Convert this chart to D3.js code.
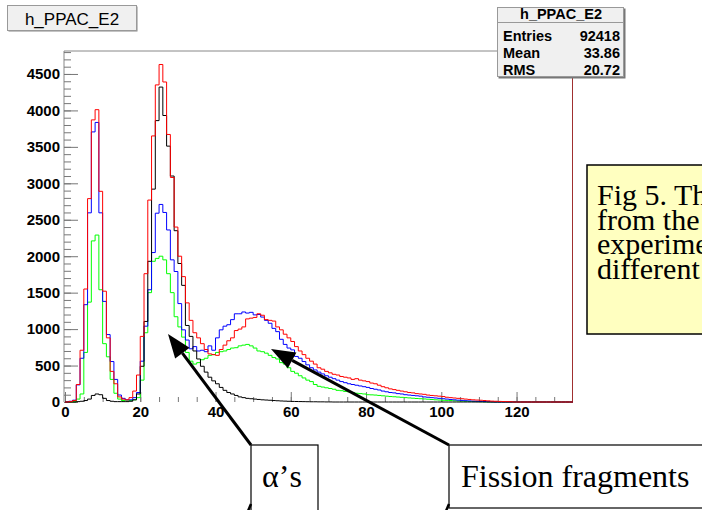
<!DOCTYPE html>
<html>
<head>
<meta charset="utf-8">
<title>h_PPAC_E2</title>
<script src="https://cdnjs.cloudflare.com/ajax/libs/d3/7.8.5/d3.min.js"></script>
<style>
  body { margin: 0; background: #fff; }
  svg { display: block; }
</style>
</head>
<body>
<div id="chart"></div>
<script>
// bin contents, one bin per unit of E2 starting at 0
var red = [0,5,20,240,710,1550,2790,3870,4010,2890,1520,880,420,250,70,40,30,60,150,370,
  900,1760,2770,3650,4350,4630,4390,3670,3080,2400,2000,1720,1360,1120,950,880,800,720,660,650,
  640,720,780,840,880,980,1000,1030,1140,1150,1160,1210,1190,1130,1120,1110,1030,990,930,880,
  830,760,700,650,600,560,520,470,450,420,400,380,370,350,340,330,310,320,300,290,
  280,260,250,230,210,195,180,170,160,150,140,130,125,115,110,105,95,90,85,80,
  75,65,60,55,50,45,40,35,30,27,24,20,16,12,10,8,6,5,3,0];
var blue = [0,10,25,235,600,1335,2595,3705,3835,2595,1380,925,555,310,96,50,30,30,60,130,
  560,1040,1540,2050,2590,2710,2600,2360,1950,1790,1350,990,850,730,760,700,710,690,770,710,
  880,990,1040,1060,1130,1210,1210,1235,1220,1230,1195,1200,1165,1120,1080,1010,965,860,790,740,
  715,625,600,555,510,470,440,410,385,360,340,320,300,280,265,250,240,230,220,210,
  200,185,175,165,150,140,130,125,115,110,100,95,90,85,80,70,65,60,55,50,
  45,40,35,30,25,22,18,15,12,10,8,6,4,2,0];
var black = [0,0,0,5,10,20,40,90,110,100,50,20,10,5,5,5,5,10,30,110,
  490,1105,1930,2920,3860,4320,3930,3510,3100,2350,1900,1600,1050,900,700,590,490,410,340,290,
  250,200,160,130,110,90,70,60,50,45,40,35,30,27,24,20,17,14,12,10,
  8,7,6,5,4,3,3,2,2,1,1,0];
var green = [0,0,5,40,110,680,1370,2210,2290,1540,800,620,310,120,40,20,15,20,30,60,
  300,950,1500,1930,1970,2000,1950,1760,1500,1170,1030,890,680,560,520,540,580,600,640,650,
  680,690,700,720,740,745,770,780,790,770,740,700,690,670,640,610,590,540,520,470,
  420,395,360,330,300,280,240,215,205,195,185,175,160,155,145,140,130,120,115,110,
  100,98,95,90,85,80,75,72,68,64,60,56,52,48,45,42,38,34,30,27,
  24,22,20,17,14,12,10,8,6,5,4,2,0];

var xMax = 135;
var yMax = 4815;
var xTicks = [0, 20, 40, 60, 80, 100, 120];
var yTicks = [0, 500, 1000, 1500, 2000, 2500, 3000, 3500, 4000, 4500];
var histName = "h_PPAC_E2";
var statLabels = ["Entries", "Mean", "RMS"];
var statValues = ["92418", "33.86", "20.72"];
var figLines = ["Fig 5. The", "from the", "experiment", "different"];

var W = 702, H = 510;
var sans = "'Liberation Sans', Arial, Helvetica, sans-serif";
var serif = "'Liberation Serif', 'Times New Roman', serif";

var svg = d3.select("#chart").append("svg")
  .attr("width", W).attr("height", H);

var x = d3.scaleLinear().domain([0, xMax]).range([65, 573]);
var y = d3.scaleLinear().domain([0, yMax]).range([402, 51]);

// frame: grey left / top, dark red right
svg.append("line").attr("x1", 64).attr("x2", 64).attr("y1", 51).attr("y2", 402)
  .attr("stroke", "#888").attr("stroke-width", 1);
svg.append("line").attr("x1", 64).attr("x2", 573).attr("y1", 51).attr("y2", 51)
  .attr("stroke", "#888").attr("stroke-width", 1);
svg.append("line").attr("x1", 572.5).attr("x2", 572.5).attr("y1", 51).attr("y2", 402)
  .attr("stroke", "#a03030").attr("stroke-width", 1);

// y axis, ticks pointing inwards
var yMinor = d3.range(0, yMax, 100);
svg.append("g").attr("transform", "translate(64,0)")
  .call(d3.axisLeft(y).tickValues(yMinor).tickSize(-7).tickSizeOuter(0).tickFormat(""))
  .call(function(g) { g.select(".domain").remove(); })
  .selectAll("line").attr("stroke", "#777");
var yAxis = svg.append("g").attr("transform", "translate(64,0)")
  .call(d3.axisLeft(y).tickValues(yTicks).tickSize(-14).tickSizeOuter(0).tickPadding(4)
    .tickFormat(d3.format("d")));
yAxis.select(".domain").remove();
yAxis.selectAll("line").attr("stroke", "#777");
yAxis.selectAll("text").attr("font-family", sans).attr("font-weight", "bold")
  .attr("font-size", 15).attr("fill", "#000");

// x axis, ticks pointing up
var xMinor = d3.range(0, xMax, 5);
svg.append("g").attr("transform", "translate(0,402)")
  .call(d3.axisBottom(x).tickValues(xMinor).tickSize(-5).tickSizeOuter(0).tickFormat(""))
  .call(function(g) { g.select(".domain").remove(); })
  .selectAll("line").attr("stroke", "#777");
var xAxis = svg.append("g").attr("transform", "translate(0,402)")
  .call(d3.axisBottom(x).tickValues(xTicks).tickSize(-10).tickSizeOuter(0).tickPadding(4)
    .tickFormat(d3.format("d")));
xAxis.select(".domain").remove();
xAxis.selectAll("line").attr("stroke", "#777");
xAxis.selectAll("text").attr("font-family", sans).attr("font-weight", "bold")
  .attr("font-size", 15).attr("fill", "#000");

// histograms as step outlines
function steps(vals) {
  var pts = [[0, 0]];
  for (var i = 0; i < xMax; i++) {
    var v = i < vals.length ? vals[i] : 0;
    pts.push([i, v]);
    pts.push([i + 1, v]);
  }
  pts.push([xMax, 0]);
  return pts;
}
var line = d3.line()
  .x(function(d) { return x(d[0]); })
  .y(function(d) { return y(d[1]); });

var series = [
  { vals: green, color: "#00ff00" },
  { vals: blue, color: "#0000ff" },
  { vals: black, color: "#000000" },
  { vals: red, color: "#ff0000" }
];
svg.append("g").selectAll("path")
  .data(series)
  .enter().append("path")
  .attr("d", function(d) { return line(steps(d.vals)); })
  .attr("fill", "none")
  .attr("stroke", function(d) { return d.color; })
  .attr("stroke-width", 1);

// title box
svg.append("rect").attr("x", 8.5).attr("y", 6.5).attr("width", 129).attr("height", 25)
  .attr("fill", "#888");
svg.append("rect").attr("x", 7.5).attr("y", 5.5).attr("width", 129).attr("height", 25)
  .attr("fill", "#f0f0f0").attr("stroke", "#999");
svg.append("text").attr("x", 72).attr("y", 24.5).attr("text-anchor", "middle")
  .attr("font-family", sans).attr("font-size", 17).text(histName);

// stats box
svg.append("rect").attr("x", 498.5).attr("y", 8.5).attr("width", 127).attr("height", 70)
  .attr("fill", "#777");
svg.append("rect").attr("x", 497.5).attr("y", 7.5).attr("width", 126).attr("height", 69)
  .attr("fill", "#f0f0f0").attr("stroke", "#999");
svg.append("line").attr("x1", 497.5).attr("x2", 623.5).attr("y1", 22.5).attr("y2", 22.5)
  .attr("stroke", "#999");
svg.append("text").attr("x", 561).attr("y", 19).attr("text-anchor", "middle")
  .attr("font-family", sans).attr("font-weight", "bold").attr("font-size", 14.5)
  .text(histName);
var statY = [41, 58, 75];
statLabels.forEach(function(lab, i) {
  svg.append("text").attr("x", 503).attr("y", statY[i])
    .attr("font-family", sans).attr("font-weight", "bold").attr("font-size", 14.5).text(lab);
  svg.append("text").attr("x", 620).attr("y", statY[i]).attr("text-anchor", "end")
    .attr("font-family", sans).attr("font-weight", "bold").attr("font-size", 14.5).text(statValues[i]);
});

// caption box (runs off the right edge of the picture)
svg.append("rect").attr("x", 587).attr("y", 165).attr("width", 140).attr("height", 169)
  .attr("fill", "#ffffc0").attr("stroke", "#000").attr("stroke-width", 1.5);
figLines.forEach(function(t, i) {
  svg.append("text").attr("x", 597).attr("y", 205 + i * 24.5)
    .attr("font-family", serif).attr("font-size", 30).text(t);
});

// annotation boxes and arrows
function arrow(x1, y1, x2, y2) {
  var dx = x2 - x1, dy = y2 - y1, len = Math.sqrt(dx * dx + dy * dy);
  var ux = dx / len, uy = dy / len, hl = 24, hw = 9;
  var bx = x2 - ux * hl, by = y2 - uy * hl;
  svg.append("line").attr("x1", x1).attr("y1", y1).attr("x2", bx).attr("y2", by)
    .attr("stroke", "#000").attr("stroke-width", 3);
  svg.append("path")
    .attr("d", "M" + x2 + "," + y2 + "L" + (bx - uy * hw) + "," + (by + ux * hw) +
      "L" + (bx + uy * hw) + "," + (by - ux * hw) + "Z")
    .attr("fill", "#000");
}
svg.append("rect").attr("x", 251).attr("y", 445).attr("width", 67).attr("height", 80)
  .attr("fill", "#fff").attr("stroke", "#000").attr("stroke-width", 1.2);
svg.append("text").attr("x", 262).attr("y", 487)
  .attr("font-family", serif).attr("font-size", 32).text("\u03b1\u2019s");
svg.append("rect").attr("x", 449).attr("y", 445).attr("width", 270).attr("height", 63)
  .attr("fill", "#fff").attr("stroke", "#000").attr("stroke-width", 1.2);
svg.append("text").attr("x", 461).attr("y", 487)
  .attr("font-family", serif).attr("font-size", 32).text("Fission fragments");
arrow(251, 445, 168, 334);
arrow(449, 445, 271, 349);
svg.append("line").attr("x1", 251).attr("y1", 504).attr("x2", 248).attr("y2", 511)
  .attr("stroke", "#000").attr("stroke-width", 2.5);
svg.append("line").attr("x1", 449).attr("y1", 504).attr("x2", 446).attr("y2", 511)
  .attr("stroke", "#000").attr("stroke-width", 2.5);
</script>
</body>
</html>
